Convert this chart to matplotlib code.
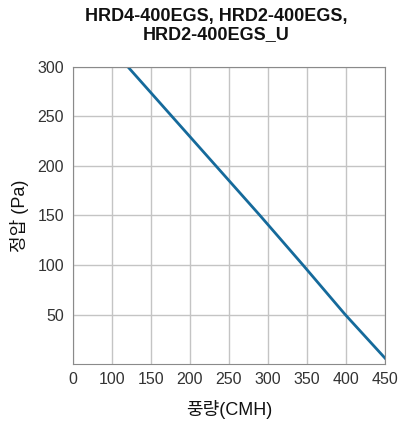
import matplotlib
matplotlib.use("Agg")
import matplotlib.pyplot as plt

plt.rcParams['font.family'] = ['Liberation Sans', 'Noto Sans CJK KR']

# Data
flow = [121, 290, 345, 399, 450]
pressure = [300, 150, 100, 50, 6]
x_ticks = [50, 100, 150, 200, 250, 300, 350, 400, 450]
x_labels = ['0', '100', '150', '200', '250', '300', '350', '400', '450']
y_ticks = [50, 100, 150, 200, 250, 300]

fig = plt.figure(figsize=(4.01, 4.28), dpi=100)
ax = fig.add_axes([0.181, 0.1495, 0.779, 0.694])

ax.plot(flow, pressure, color='#156a9b', linewidth=2)

ax.set_xlim(50, 450)
ax.set_ylim(0, 300)
ax.set_xticks(x_ticks)
ax.set_xticklabels(x_labels)
ax.set_yticks(y_ticks)
ax.grid(True, color='#c4c4c4', linewidth=1)
ax.set_axisbelow(True)
ax.tick_params(length=0, pad=6, labelsize=11.5, colors='#333333')
for s in ax.spines.values():
    s.set_color('#8a8a8a')

ax.set_xlabel('풍량(CMH)', fontsize=13, color='#111111', labelpad=9)
ax.set_ylabel('정압 (Pa)', fontsize=13, color='#111111', labelpad=6)
fig.text(0.539, 0.982, 'HRD4-400EGS, HRD2-400EGS,\nHRD2-400EGS_U', fontsize=13,
         fontweight='bold', color='#111111', ha='center', va='top', linespacing=1.1)

fig.savefig('out.png', dpi=100)
